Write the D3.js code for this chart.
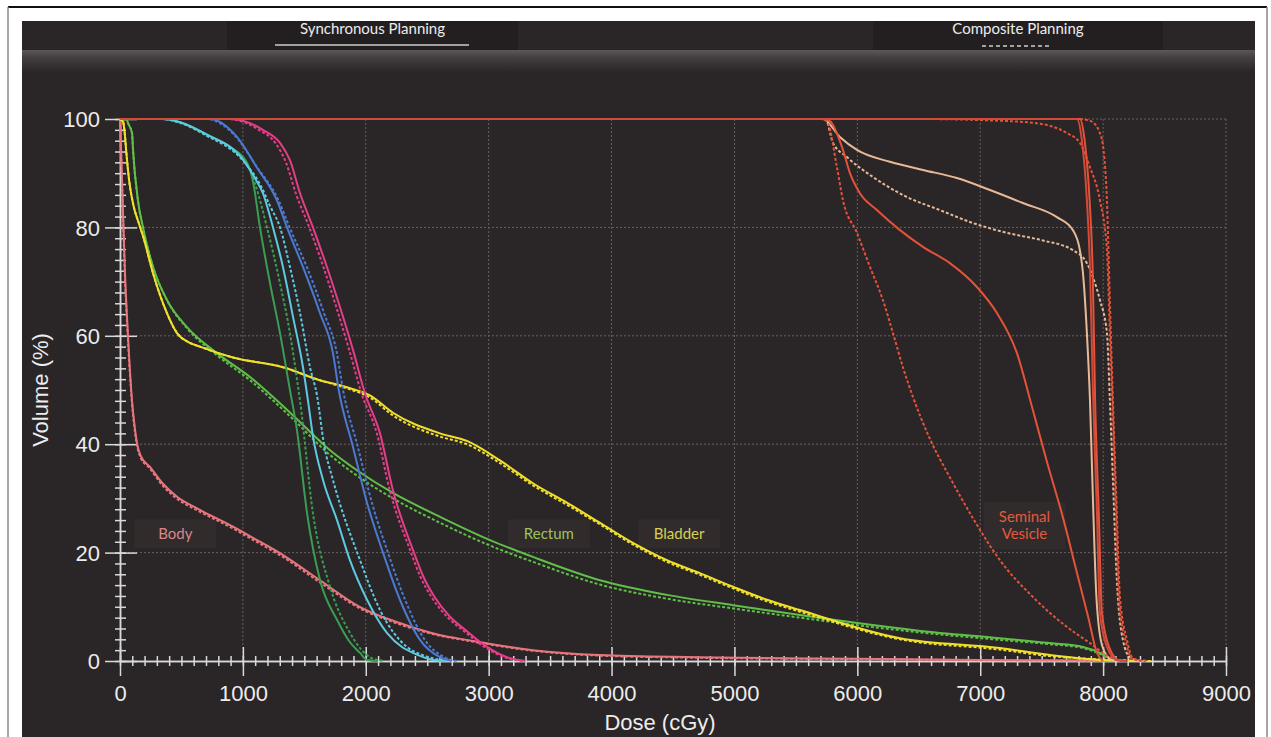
<!DOCTYPE html>
<html>
<head>
<meta charset="utf-8">
<script src="https://cdn.jsdelivr.net/npm/d3@7/dist/d3.min.js"></script>
<style>
body { margin: 0; background: #fff; }
svg { display: block; }
</style>
</head>
<body>
<script>
// DVH points as [dose (cGy), volume (%)]
var bodySync = [[0,100],[15,90],[40,72],[65,60],[98,48],[118,43.5],[140,40],[170,37.8],[244,35.8],[350,32.7],[464,30.3],[650,27.9],[920,24.8],[1100,22.5],[1330,19.5],[1627,14.9],[1950,10],[2276,7],[2600,4.8],[2820,3.9],[3360,2],[3900,1.1],[4700,0.7],[6000,0.4],[7000,0.2],[8000,0.05],[8300,0]];
var bodyComp = [[0,100],[14,90],[38,72],[63,60],[96,48],[116,43.3],[138,39.8],[168,37.5],[240,35.6],[345,32.4],[460,30],[645,27.6],[915,24.5],[1095,22.2],[1325,19.2],[1620,14.6],[1945,9.8],[2270,6.8],[2595,4.7],[2815,3.8],[3355,1.9],[3895,1.0],[4700,0.6],[6000,0.35],[7000,0.15],[8000,0.05],[8300,0]];

var rectumSync = [[0,100],[50,100],[70,99],[98,97.4],[106,94.3],[146,85],[187,80],[269,72.7],[382,66.6],[545,61.6],[789,56.8],[1058,52.4],[1400,45.5],[1709,38.9],[1928,35.2],[2221,31],[2604,26.6],[3011,22.3],[3360,19.2],[3906,14.9],[4451,12.2],[4988,10.3],[5533,8.5],[6000,7],[6500,5.6],[7160,4.2],[7567,3.3],[7836,2.6],[7974,1.5],[8050,0.5],[8112,0]];
var rectumComp = [[0,100],[50,100],[70,99],[98,97.4],[106,94.3],[146,85],[187,80],[269,72.7],[382,66.6],[545,61.4],[789,56.4],[1058,51.8],[1400,44.8],[1709,38],[1928,34.2],[2221,30],[2604,25.5],[3011,21.3],[3360,18.3],[3906,14.1],[4451,11.5],[4988,9.7],[5533,8],[6000,6.6],[6500,5.3],[7160,3.9],[7567,3.1],[7836,2.4],[7974,1.3],[8050,0.4],[8112,0]];

var bladderSync = [[0,100],[25,99.5],[40,97],[49,94.5],[77,88.2],[110,84],[150,81],[190,78.2],[268,71.6],[382,64.2],[464,60.5],[560,58.8],[651,58],[919,56],[1326,54.2],[1627,51.8],[1847,50.5],[2034,49],[2221,45.8],[2604,42],[2823,40.6],[3092,37],[3360,32.8],[3637,29.2],[3906,25.5],[4174,21.8],[4451,18.6],[4719,16.2],[4988,13.7],[5265,11.3],[5533,9.4],[6347,4.2],[7160,2.4],[7567,1.1],[7974,0.2],[8300,0]];
var bladderComp = [[0,100],[25,99.5],[40,97],[49,94.5],[77,88.2],[110,84],[150,81],[190,78.2],[268,71.6],[382,64.2],[464,60.5],[560,58.8],[651,58],[919,56],[1326,54.2],[1627,51.8],[1847,50.3],[2034,48.6],[2221,45.3],[2604,41.4],[2823,40],[3092,36.5],[3360,32.4],[3637,28.8],[3906,25.2],[4174,21.5],[4451,18.3],[4719,15.9],[4988,13.4],[5265,11],[5533,9.1],[6347,4],[7160,2.1],[7567,0.9],[7974,0.3],[8400,0]];

var femurSync = [[0,100],[380,100],[500,99.3],[700,97.2],[900,94.8],[1033,92],[1082,88.5],[1139,80],[1221,69.7],[1302,60.5],[1383,50],[1440,42.6],[1522,27.3],[1627,15],[1766,7.6],[1870,3.5],[1953,1.5],[2010,0.2],[2100,0]];
var femurComp = [[0,100],[380,100],[500,99.3],[700,97],[900,94.6],[1033,91.8],[1100,88],[1196,80],[1302,69.7],[1383,60.5],[1440,52],[1465,48],[1570,27.3],[1709,13.7],[1871,5.2],[1960,2.2],[2034,0.7],[2150,0]];

var cyanSync = [[0,100],[340,100],[488,99.4],[700,97.2],[1001,92.5],[1100,89],[1163,86.3],[1245,80],[1326,72.7],[1408,63.5],[1489,54.2],[1530,48],[1570,41.5],[1652,33.4],[1766,26],[1871,18.6],[2010,11.3],[2172,5.2],[2300,2.5],[2384,1.5],[2547,0.2],[2650,0]];
var cyanComp = [[0,100],[340,100],[488,99.3],[700,97],[1001,92.3],[1150,87.5],[1220,84],[1302,80],[1383,72.7],[1465,64.2],[1546,54.2],[1603,49],[1660,40],[1733,33.4],[1953,18.6],[2116,9.4],[2335,2.6],[2450,1.2],[2547,0.5],[2680,0]];

var blueSync = [[0,100],[730,100],[952,96.7],[1115,91],[1277,85],[1359,80],[1489,72.7],[1627,64.2],[1733,56.8],[1780,50],[1896,39.5],[2010,29.2],[2140,20],[2278,11.3],[2441,3.9],[2604,0.7],[2700,0]];
var blueComp = [[0,100],[700,100],[940,96.8],[1110,91.3],[1290,85],[1380,80],[1520,72.7],[1660,64.2],[1765,56.8],[1815,50],[1935,39.5],[2050,29.2],[2180,20],[2320,11.3],[2480,3.9],[2640,0.7],[2740,0]];

var magentaSync = [[0,100],[900,100],[1163,98],[1302,95.6],[1383,92.4],[1465,86.3],[1570,80],[1684,72.7],[1790,65.3],[1896,57.4],[1993,49.4],[2116,42],[2221,31.5],[2384,20.5],[2470,15.5],[2560,11.8],[2680,8.3],[2823,5.5],[2986,2.6],[3149,0.7],[3300,0]];
var magentaComp = [[0,100],[870,100],[1130,98],[1270,95.4],[1350,92],[1435,86],[1540,80],[1655,72.7],[1760,65.3],[1865,57.4],[1965,49.4],[2090,42],[2195,31.5],[2360,20.5],[2445,15.5],[2535,11.8],[2655,8.3],[2800,5.5],[2965,2.6],[3130,0.7],[3280,0]];

var tanSync = [[0,100],[5720,100],[5858,96.7],[5997,94.3],[6265,92.1],[6534,90.6],[6810,89.1],[7079,86.9],[7347,84.5],[7624,81.9],[7754,79.5],[7811,75.8],[7836,71.6],[7868,60.5],[7893,48.2],[7917,30],[7945,12],[7990,3],[8050,0.5],[8100,0]];
var tanComp = [[0,100],[5740,100],[5802,95.6],[5915,93],[6127,89.3],[6404,85.6],[6672,83.2],[6941,80.8],[7217,79],[7486,77.7],[7754,75.8],[7868,73.4],[7917,70.8],[7974,66.6],[8031,60.5],[8055,48.2],[8080,33.4],[8112,14.9],[8161,3.9],[8218,0.7],[8300,0]];

var svSync = [[0,100],[5720,100],[5777,99.6],[5883,94.3],[5940,90],[6021,86.3],[6159,83.2],[6347,79.5],[6534,76.4],[6753,73.4],[6973,69],[7136,64.2],[7299,56.8],[7420,47],[7540,37],[7673,26.5],[7790,16],[7880,8],[7950,1.5],[8000,0]];
var svComp = [[0,100],[5700,100],[5753,99.6],[5834,91.1],[5883,85],[5997,79],[6103,72.7],[6208,66.6],[6290,60.5],[6371,54.2],[6453,48.7],[6590,41],[6750,34],[6950,26],[7160,18.6],[7429,11.8],[7705,6.3],[7893,3.3],[8055,0.7],[8150,0]];

var ptvSync = [[0,100],[7787,100],[7827,96.1],[7868,85],[7893,72.7],[7917,50],[7950,27.3],[7974,8.9],[8031,2.6],[8112,0.2],[8200,0]];
var ctvSync = [[0,100],[7810,100],[7850,96],[7890,85],[7915,72],[7935,48],[7965,27],[7990,9],[8050,2.5],[8130,0]];
var ptvComp = [[0,100],[7800,100],[7900,99.6],[7974,97.4],[8005,94],[8031,85],[8055,66.6],[8080,48],[8112,27.3],[8137,11.8],[8194,3.9],[8242,0.5],[8350,0]];
var ctvComp = [[0,100],[6500,100],[7000,99.8],[7429,99.3],[7705,97.4],[7811,95.6],[7893,91.1],[7974,85],[8031,75.8],[8055,60.5],[8075,48],[8105,27],[8130,11],[8185,3.5],[8235,0.4],[8330,0]];

// axis ticks
var xTicks = [0, 1000, 2000, 3000, 4000, 5000, 6000, 7000, 8000, 9000];
var yTicks = [0, 20, 40, 60, 80, 100];

// structure labels
var labelNames = [['Body'], ['Rectum'], ['Bladder'], ['Seminal', 'Vesicle']];
var labelDose = [450, 3490, 4550, 7360];
var labelVol = [23.5, 23.5, 23.5, 25];
var labelColors = ['#dc878a', '#9cc35c', '#d9cf50', '#e15a3e'];

var W = 1271, H = 737;

var svg = d3.select('body')
	.append('svg')
	.attr('width', W)
	.attr('height', H)
	.style('font-family', '"Liberation Sans", Arial, sans-serif');

var x = d3.scaleLinear().domain([0, 9000]).range([120, 1226]);
var y = d3.scaleLinear().domain([0, 100]).range([661, 119]);

// frame round the screenshot
svg.append('rect').attr('x', 0).attr('y', 0).attr('width', W).attr('height', H).attr('fill', '#fff');
svg.append('line').attr('x1', 8).attr('x2', 1267).attr('y1', 7).attr('y2', 7).attr('stroke', '#111').attr('stroke-width', 2);
svg.append('line').attr('x1', 8).attr('x2', 8).attr('y1', 7).attr('y2', H).attr('stroke', '#888').attr('stroke-width', 1.5);
svg.append('line').attr('x1', 1267).attr('x2', 1267).attr('y1', 7).attr('y2', H).attr('stroke', '#888').attr('stroke-width', 1.5);

// dark panel
svg.append('rect')
	.attr('x', 22).attr('y', 21)
	.attr('width', 1233).attr('height', H - 21)
	.attr('fill', '#2a2526');

var defs = svg.append('defs');
var bevel = defs.append('linearGradient')
	.attr('id', 'bevel')
	.attr('x1', '0%').attr('y1', '0%').attr('x2', '0%').attr('y2', '100%');
bevel.append('stop').attr('offset', 0).attr('stop-color', '#5c5758');
bevel.append('stop').attr('offset', 0.35).attr('stop-color', '#433e3f');
bevel.append('stop').attr('offset', 1).attr('stop-color', '#2a2526');

svg.append('rect')
	.attr('x', 22).attr('y', 50)
	.attr('width', 1233).attr('height', 22)
	.attr('fill', 'url(#bevel)');

// header tabs
var tabs = [
	{ label: 'Synchronous Planning', x0: 227, x1: 518, lx0: 275, lx1: 469, ly: 45, dash: null },
	{ label: 'Composite Planning', x0: 873, x1: 1163, lx0: 982, lx1: 1050, ly: 46, dash: '4,3' }
];
tabs.forEach(function(t) {
	svg.append('rect')
		.attr('x', t.x0).attr('y', 21)
		.attr('width', t.x1 - t.x0).attr('height', 29)
		.attr('fill', '#231f20');
	svg.append('text')
		.attr('x', (t.x0 + t.x1) / 2)
		.attr('y', 29)
		.attr('dy', '0.35em')
		.attr('text-anchor', 'middle')
		.style('font-family', 'Lato, "Open Sans", sans-serif')
		.style('font-size', '15px')
		.attr('fill', '#ececec')
		.text(t.label);
	svg.append('line')
		.attr('x1', t.lx0).attr('x2', t.lx1)
		.attr('y1', t.ly).attr('y2', t.ly)
		.attr('stroke', '#cfcfcf')
		.attr('stroke-width', 1.5)
		.attr('stroke-dasharray', t.dash);
});

// grid
var grid = svg.append('g').attr('class', 'grid');
grid.selectAll('.vgrid')
	.data(xTicks.slice(1))
	.enter().append('line')
	.attr('x1', function(d) { return x(d); })
	.attr('x2', function(d) { return x(d); })
	.attr('y1', y(0)).attr('y2', y(100))
	.attr('stroke', '#67615f').attr('stroke-width', 1).attr('stroke-dasharray', '2,2');
grid.selectAll('.hgrid')
	.data(yTicks.slice(1))
	.enter().append('line')
	.attr('x1', x(0)).attr('x2', x(9000))
	.attr('y1', function(d) { return y(d); })
	.attr('y2', function(d) { return y(d); })
	.attr('stroke', '#67615f').attr('stroke-width', 1).attr('stroke-dasharray', '2,2');

// structure labels (boxes behind the text)
var labels = svg.append('g')
	.style('font-family', 'Lato, "Open Sans", sans-serif')
	.style('font-size', '15px');
labelNames.forEach(function(lines, i) {
	var cx = x(labelDose[i]), cy = y(labelVol[i]);
	var bh = lines.length > 1 ? 47 : 29;
	labels.append('rect')
		.attr('x', cx - 41).attr('y', cy - bh / 2)
		.attr('width', 82).attr('height', bh)
		.attr('fill', '#312b2c');
	lines.forEach(function(s, j) {
		labels.append('text')
			.attr('x', cx)
			.attr('y', cy + (j - (lines.length - 1) / 2) * 17)
			.attr('dy', '0.35em')
			.attr('text-anchor', 'middle')
			.attr('fill', labelColors[i])
			.text(s);
	});
});

// axes
var axisColor = '#d9d9d9';

var xMinor = svg.append('g')
	.attr('transform', 'translate(0,' + y(0) + ')')
	.call(d3.axisBottom(x).tickValues(d3.range(0, 9001, 100)).tickSize(0).tickFormat(''));
xMinor.selectAll('.tick line').attr('y1', -5).attr('y2', 5);

var xAxis = svg.append('g')
	.attr('transform', 'translate(0,' + y(0) + ')')
	.call(d3.axisBottom(x).tickValues(xTicks).tickSize(0).tickPadding(0).tickFormat(d3.format('d')));
xAxis.selectAll('.tick line').attr('y1', -14).attr('y2', 15);
xAxis.selectAll('.tick text')
	.attr('y', 32)
	.attr('dy', '0.35em')
	.style('font-size', '22px')
	.attr('fill', '#ececec');

var yMinor = svg.append('g')
	.attr('transform', 'translate(' + x(0) + ',0)')
	.call(d3.axisLeft(y).tickValues(d3.range(0, 101, 2)).tickSize(0).tickFormat(''));
yMinor.selectAll('.tick line').attr('x1', -5).attr('x2', 6);

var yAxis = svg.append('g')
	.attr('transform', 'translate(' + x(0) + ',0)')
	.call(d3.axisLeft(y).tickValues(yTicks).tickSize(0).tickPadding(0).tickFormat(d3.format('d')));
yAxis.selectAll('.tick line').attr('x1', -15).attr('x2', 17);
yAxis.selectAll('.tick text')
	.attr('x', -20)
	.attr('dy', '0.35em')
	.style('font-size', '22px')
	.attr('fill', '#ececec');

svg.selectAll('.domain').attr('stroke', axisColor).attr('stroke-width', 1.5);
svg.selectAll('.tick line').attr('stroke', axisColor).attr('stroke-width', 1.5);

// axis titles
svg.append('text')
	.attr('x', 660).attr('y', 722)
	.attr('dy', '0.35em')
	.attr('text-anchor', 'middle')
	.style('font-size', '22px')
	.attr('fill', '#ececec')
	.text('Dose (cGy)');

svg.append('text')
	.attr('transform', 'translate(40,390) rotate(-90)')
	.attr('dy', '0.35em')
	.attr('text-anchor', 'middle')
	.style('font-size', '22px')
	.attr('fill', '#ececec')
	.text('Volume (%)');

// curves: solid = synchronous, dashed = composite
var series = [
	{ data: bodySync, color: '#e8767e', dashed: false },
	{ data: bodyComp, color: '#e8767e', dashed: true },
	{ data: rectumComp, color: '#5fbf48', dashed: true },
	{ data: rectumSync, color: '#5fbf48', dashed: false },
	{ data: bladderComp, color: '#f0e02c', dashed: true },
	{ data: bladderSync, color: '#f0e02c', dashed: false },
	{ data: femurComp, color: '#3a9e52', dashed: true },
	{ data: femurSync, color: '#3a9e52', dashed: false },
	{ data: cyanComp, color: '#5ccbe2', dashed: true },
	{ data: cyanSync, color: '#5ccbe2', dashed: false },
	{ data: blueComp, color: '#4a7ad2', dashed: true },
	{ data: blueSync, color: '#4a7ad2', dashed: false },
	{ data: magentaComp, color: '#e33f88', dashed: true },
	{ data: magentaSync, color: '#e33f88', dashed: false },
	{ data: tanComp, color: '#e8b996', dashed: true },
	{ data: tanSync, color: '#e8b996', dashed: false },
	{ data: svComp, color: '#e4523a', dashed: true },
	{ data: svSync, color: '#e4523a', dashed: false },
	{ data: ctvComp, color: '#e4523a', dashed: true },
	{ data: ptvComp, color: '#e4523a', dashed: true },
	{ data: ctvSync, color: '#e4523a', dashed: false },
	{ data: ptvSync, color: '#d14a3a', dashed: false }
];

var line = d3.line()
	.x(function(d) { return x(d[0]); })
	.y(function(d) { return y(d[1]); })
	.curve(d3.curveMonotoneX);

svg.append('g')
	.selectAll('path')
	.data(series)
	.enter().append('path')
	.attr('d', function(d) { return line(d.data); })
	.attr('fill', 'none')
	.attr('stroke', function(d) { return d.color; })
	.attr('stroke-width', 2)
	.attr('stroke-dasharray', function(d) { return d.dashed ? '3,2' : null; });
</script>
</body>
</html>
